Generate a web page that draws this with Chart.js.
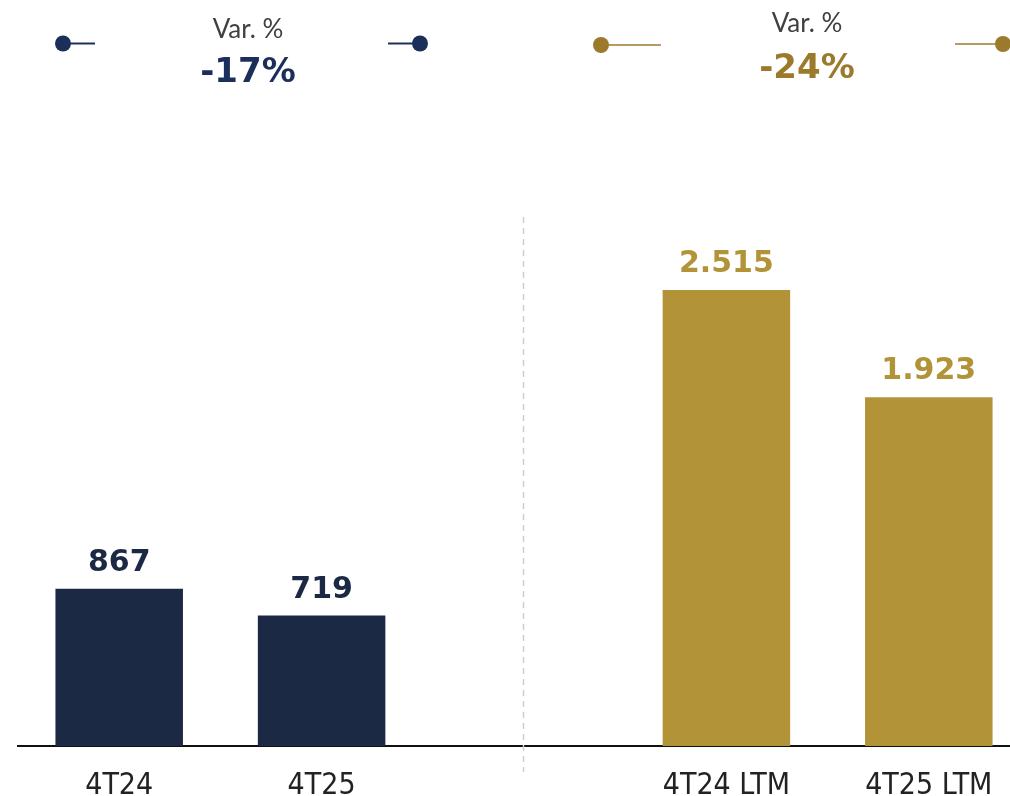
<!DOCTYPE html>
<html lang="pt">
<head>
    <meta charset="UTF-8">
    <title>4T24 vs 4T25</title>
    <script src="https://cdn.jsdelivr.net/npm/chart.js"></script>
    <style>
        html, body { margin: 0; padding: 0; background: #fff; overflow: hidden; }
        #wrap { width: 1030px; height: 826px; }
    </style>
</head>
<body>
    <div id="wrap"><canvas id="chart"></canvas></div>

    <script>
        // data
        const categories = ['4T24', '4T25', '', '4T24 LTM', '4T25 LTM'];
        const values = [867, 719, null, 2515, 1923];
        const barColors = ['#1b2944', '#1b2944', '#ffffff', '#b29338', '#b29338'];

        const navy = '#1b2f5a';
        const gold = '#9c7a2c';
        const numFont = '"DejaVu Sans", sans-serif';

        function fmt(v) {
            return v.toString().replace(/\B(?=(\d{3})+(?!\d))/g, '.');
        }
        function pct(a, b) {
            return Math.round((b / a - 1) * 100) + '%';
        }

        // value labels over the bars
        const valueLabels = {
            id: 'valueLabels',
            afterDatasetsDraw(chart) {
                const ctx = chart.ctx;
                const meta = chart.getDatasetMeta(0);
                ctx.save();
                ctx.font = 'bold 30px ' + numFont;
                ctx.textAlign = 'center';
                ctx.textBaseline = 'alphabetic';
                meta.data.forEach((bar, i) => {
                    if (values[i] == null) return;
                    ctx.fillStyle = i < 2 ? '#1b2944' : '#b29338';
                    ctx.fillText(fmt(values[i]), bar.x, bar.y - 18);
                });
                ctx.restore();
            }
        };

        // dashed separator + variation headers
        const extras = {
            id: 'extras',
            beforeDatasetsDraw(chart) {
                const ctx = chart.ctx;
                const x = Math.round(chart.scales.x.getPixelForValue(2)) - 0.5;
                ctx.save();
                ctx.strokeStyle = '#cfcfcf';
                ctx.lineWidth = 1.5;
                ctx.setLineDash([6, 5]);
                ctx.beginPath();
                ctx.moveTo(x, 217);
                ctx.lineTo(x, 772);
                ctx.stroke();
                ctx.restore();
            },
            afterDraw(chart) {
                const ctx = chart.ctx;
                function dot(x, y, c) {
                    ctx.fillStyle = c;
                    ctx.beginPath();
                    ctx.arc(x, y, 8, 0, Math.PI * 2);
                    ctx.fill();
                }
                function line(x1, x2, y, c, w) {
                    ctx.strokeStyle = c;
                    ctx.lineWidth = w;
                    ctx.beginPath();
                    ctx.moveTo(x1, y);
                    ctx.lineTo(x2, y);
                    ctx.stroke();
                }
                function header(cx, yVar, yPct, txt, c) {
                    ctx.textAlign = 'center';
                    ctx.textBaseline = 'alphabetic';
                    ctx.fillStyle = '#404040';
                    ctx.font = '26px Lato, sans-serif';
                    ctx.fillText('Var. %', cx, yVar);
                    ctx.fillStyle = c;
                    ctx.font = 'bold 34px ' + numFont;
                    ctx.fillText(txt, cx, yPct);
                }
                ctx.save();
                line(63, 95, 43.5, navy, 2);
                dot(63, 43.5, navy);
                line(388, 420, 43.5, navy, 2);
                dot(420, 43.5, navy);
                header(248, 38, 82, pct(values[0], values[1]), navy);

                line(601, 661, 45, gold, 1.5);
                dot(601, 45, gold);
                line(955, 1003, 44, gold, 1.5);
                dot(1003, 44, gold);
                header(807, 32, 78, pct(values[3], values[4]), gold);
                ctx.restore();
            }
        };

        new Chart(document.getElementById('chart'), {
            type: 'bar',
            data: {
                labels: categories,
                datasets: [{
                    data: values,
                    backgroundColor: barColors,
                    borderWidth: 0,
                    categoryPercentage: 1,
                    barPercentage: 0.63
                }]
            },
            options: {
                responsive: true,
                maintainAspectRatio: false,
                animation: false,
                layout: { padding: { left: 18, right: 0, top: 202, bottom: 0 } },
                plugins: {
                    legend: { display: false },
                    tooltip: { enabled: false }
                },
                scales: {
                    x: {
                        grid: { display: false, drawTicks: false },
                        border: { display: true, color: '#111', width: 2 },
                        ticks: {
                            color: '#222',
                            padding: 22,
                            font: { family: '"DejaVu Sans Condensed", sans-serif', size: 30 }
                        }
                    },
                    y: {
                        display: false,
                        min: 0,
                        max: 3000
                    }
                }
            },
            plugins: [valueLabels, extras]
        });
    </script>
</body>
</html>
